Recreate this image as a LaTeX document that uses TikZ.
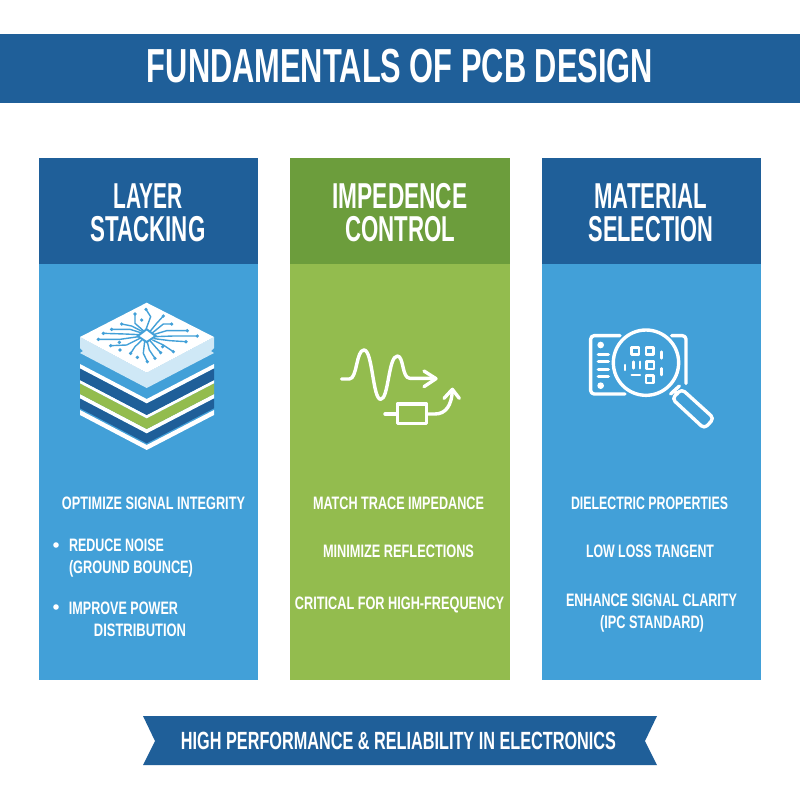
\documentclass[tikz,border=0pt]{standalone}
\usepackage{fontspec}
\usepackage{graphicx}
\setmainfont{Liberation Sans}
\definecolor{dkblue}{HTML}{1F5F99}
\definecolor{ltblue}{HTML}{42A0D8}
\definecolor{grn}{HTML}{93BC4E}
\definecolor{dkgrn}{HTML}{6C9D3C}
\definecolor{pale}{HTML}{CFE8F6}
\newlength\pxu
\setlength\pxu{.25mm}
\newcommand{\lab}[6]{%
  \node[anchor=base,inner sep=0pt,text=white,yshift=-#5*0.36pt] (#1) at (#2,#3)
    {\resizebox{#4\pxu}{\height}{\fontsize{#5}{#5}\selectfont\bfseries #6}};}
\newcommand{\chev}[3]{\fill[#3] (80,#1) -- (146.7,#1+35) -- (214,#1) -- (214,#2) -- (146.7,#2+35) -- (80,#2) -- cycle;}
\tikzset{
  icon/.style={draw=white,line width=.85mm,line cap=round,line join=round},
  trace/.style={draw=ltblue,line width=.35mm,line cap=round,line join=round},
  via/.style={fill=ltblue},
}
\begin{document}
\begin{tikzpicture}[x=.25mm,y=-.25mm]
\useasboundingbox (0,0) rectangle (800,800);
\fill[white] (0,0) rectangle (800,800);
% title
\fill[dkblue] (0,34) rectangle (800,103);
\lab{title}{400}{65}{506}{34}{FUNDAMENTALS OF PCB DESIGN}
% columns
\fill[ltblue] (39,158) rectangle (258,680);
\fill[dkblue] (39,158) rectangle (258,264);
\fill[grn] (290,158) rectangle (510,680);
\fill[dkgrn] (290,158) rectangle (510,264);
\fill[ltblue] (542,158) rectangle (761,680);
\fill[dkblue] (542,158) rectangle (761,264);
% headers
\lab{h1a}{148}{196}{69}{25.6}{LAYER}
\lab{h1b}{148}{229}{115}{25.6}{STACKING}
\lab{h2a}{400}{196}{135}{25.6}{IMPEDENCE}
\lab{h2b}{400}{229}{110}{25.6}{CONTROL}
\lab{h3a}{651}{196}{113}{25.6}{MATERIAL}
\lab{h3b}{651}{229}{125}{25.6}{SELECTION}
% stack icon
\chev{410}{415}{white}
\chev{398.3}{408.3}{dkblue}
\chev{394}{398.3}{white}
\chev{383.3}{394}{grn}
\chev{380}{383.3}{white}
\chev{368.3}{380}{dkblue}
\chev{364}{368.3}{white}
\fill[pale] (80,337) -- (146.7,372.7) -- (214,337) -- (214,348) -- (211,351) -- (214,353) -- (146.7,388) -- (80,353) -- (83,351) -- (80,348) -- cycle;
\fill[white] (146.7,302.7) -- (214,337) -- (146.7,372.7) -- (80,337) -- cycle;
\begin{scope}[shift={(60,300)},x=.08333mm,y=-.08333mm]
  \fill[ltblue] (260,84) -- (292,108) -- (260,130) -- (228,108) -- cycle;
  \fill[white] (260,92) -- (281,108) -- (260,122) -- (239,108) -- cycle;
  \foreach \ax/\ay/\bx/\by/\cx/\cy in {
    250/92/225/70/225/42,
    258/88/272/50/258/28,
    272/92/290/70/310/48,
    278/98/310/72/335/72,
    283/103/320/92/382/92,
    285/110/340/108/412/108,
    283/116/330/122/378/125,
    278/120/310/135/340/155,
    270/122/290/145/302/158,
    262/126/268/150/285/175,
    254/124/250/160/262/185,
    246/120/225/140/212/160,
    240/115/200/135/152/137,
    236/110/180/118/115/118,
    238/104/195/102/130/100,
    242/98/210/88/155/88,
    246/94/215/78/185/72} {\draw[trace] (\ax,\ay) -- (\bx,\by) -- (\cx,\cy);}
  \foreach \vx/\vy in {225/42,258/28,310/48,335/72,382/92,412/108,378/125,340/155,302/158,285/175,262/185,212/160,152/137,115/118,130/100,155/88,185/72,180/150,232/172,245/60,308/140,178/127}
    {\fill[via] (\vx,\vy) circle (5.5);}
\end{scope}
% wave icon
\begin{scope}[shift={(320,340)},x=.08333mm,y=-.08333mm]
  \draw[icon] (65,117) -- (88,117) .. controls (112,117) and (108,30) .. (132,30)
     .. controls (158,30) and (158,178) .. (182,178)
     .. controls (206,178) and (205,48) .. (232,48)
     .. controls (252,48) and (245,115) .. (270,115) -- (345,115);
  \draw[icon] (312,93) -- (348,116) -- (312,140);
  \draw[icon] (232,192) rectangle (320,250);
  \draw[icon] (195,222) -- (232,222);
  \draw[icon] (320,222) -- (345,222) .. controls (378,222) and (395,195) .. (397,152);
  \draw[icon] (372,175) -- (397,148) -- (418,175);
\end{scope}
% magnifier icon
\begin{scope}[shift={(570,320)},x=.08333mm,y=-.08333mm]
  \draw[icon,rounded corners=2.5pt] (150,47) -- (62,47) -- (62,222) -- (165,222);
  \draw[icon,rounded corners=2.5pt] (305,47) -- (348,47) -- (348,190);
  \draw[icon] (228,128) circle (98);
  \fill[white] (92,75) circle (10) (92,197) circle (10);
  \foreach \yy in {103,125,148,170} {\draw[icon] (85,\yy) -- (115,\yy);}
  \draw[icon,line width=.6mm] (184,82) rectangle (207,104) (228,82) rectangle (250,104)
     (230,125) rectangle (252,147) (228,167) rectangle (250,189);
  \draw[icon,line width=.6mm] (165,135) -- (165,150) (190,125) -- (190,145) (210,125) -- (210,145)
     (275,95) -- (275,115) (275,145) -- (275,165) (185,165) -- (210,165);
  \draw[icon] (302,222) -- (328,198);
  \draw[icon] (312,212) -- (322,222);
  \draw[icon,rounded corners=3pt] (306,236) -- (335,207) -- (432,295) -- (403,326) -- cycle;
\end{scope}
% column 1
\lab{a1}{153.5}{503}{183}{12.8}{OPTIMIZE SIGNAL INTEGRITY}
\fill[white] (56,545) circle (2.8);
\lab{a2}{116.5}{545}{95}{12.8}{REDUCE NOISE}
\lab{a3}{131}{567}{124}{12.8}{(GROUND BOUNCE)}
\fill[white] (56,607) circle (2.8);
\lab{a4}{123.5}{608}{109}{12.8}{IMPROVE POWER}
\lab{a5}{140}{630}{92}{12.8}{DISTRIBUTION}
% column 2
\lab{b1}{398.5}{503}{171}{12.8}{MATCH TRACE IMPEDANCE}
\lab{b2}{398.5}{551}{151}{12.8}{MINIMIZE REFLECTIONS}
\lab{b3}{399.5}{603}{209}{12.8}{CRITICAL FOR HIGH-FREQUENCY}
% column 3
\lab{c1}{649.5}{503}{157}{12.8}{DIELECTRIC PROPERTIES}
\lab{c2}{650}{551}{128}{12.8}{LOW LOSS TANGENT}
\lab{c3}{651.5}{600}{171}{12.8}{ENHANCE SIGNAL CLARITY}
\lab{c4}{652}{622}{104}{12.8}{(IPC STANDARD)}
% banner
\fill[dkblue] (143,716) -- (657,716) -- (645,741) -- (657,765) -- (143,765) -- (155,741) -- cycle;
\lab{ban}{398.5}{741}{435}{17.7}{HIGH PERFORMANCE \& RELIABILITY IN ELECTRONICS}
\end{tikzpicture}
\end{document}
